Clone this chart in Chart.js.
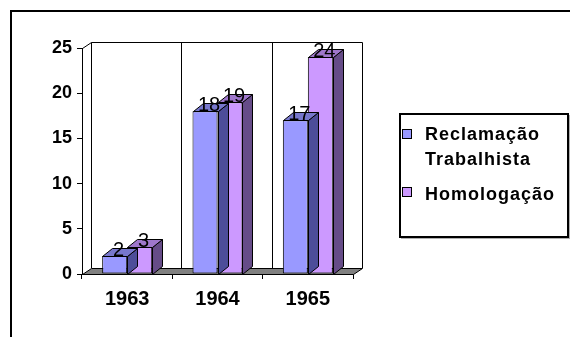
<!DOCTYPE html>
<html>
<head>
<meta charset="utf-8">
<script src="https://cdn.jsdelivr.net/npm/chart.js@4.4.0/dist/chart.umd.min.js"></script>
<style>
  html, body { margin: 0; padding: 0; background: #fff; }
  #wrap { width: 570px; height: 337px; position: relative; }
</style>
</head>
<body>
<div id="wrap"><canvas id="chart" width="570" height="337"></canvas></div>
<script>
// ── dados ─────────────────────────────────────────────────────────────
var anos        = ["1963", "1964", "1965"];
var reclamacao  = [2, 18, 17];
var homologacao = [3, 19, 24];
var nomesSerie  = [["Reclamação", "Trabalhista"], ["Homologação"]];
var yTicks      = [0, 5, 10, 15, 20, 25];

var FONTE = "'Liberation Sans', Arial, sans-serif";
var cores = [
  { frente: "#9999ff", topo: "#7777cc", lado: "#4d4d99" },
  { frente: "#cc99ff", topo: "#9f77cc", lado: "#664c88" }
];
var BX = 10, BY = -8;   // profundidade das barras
var WX = 9,  WY = -6;   // profundidade das paredes / piso

function poly(ctx, pts, fill) {
  ctx.beginPath();
  ctx.moveTo(pts[0][0], pts[0][1]);
  for (var i = 1; i < pts.length; i++) ctx.lineTo(pts[i][0], pts[i][1]);
  ctx.closePath();
  if (fill) { ctx.fillStyle = fill; ctx.fill(); }
  ctx.stroke();
}

// paredes, piso e linhas de grade do fundo
var paredes3d = {
  id: "paredes3d",
  beforeDatasetsDraw: function(chart) {
    var ctx = chart.ctx, a = chart.chartArea, xs = chart.scales.x;
    var L = a.left, R = a.right, T = a.top, B = a.bottom;
    ctx.save();
    ctx.strokeStyle = "#000"; ctx.lineWidth = 1;
    // parede do fundo
    ctx.beginPath();
    ctx.moveTo(L + WX + 0.5, B + WY); ctx.lineTo(L + WX + 0.5, T + WY + 0.5);
    ctx.lineTo(R + WX + 0.5, T + WY + 0.5); ctx.lineTo(R + WX + 0.5, B + WY);
    ctx.stroke();
    // divisões entre categorias no fundo
    for (var i = 0; i < anos.length - 1; i++) {
      var gx = Math.round((xs.getPixelForTick(i) + xs.getPixelForTick(i + 1)) / 2) + WX + 0.5;
      ctx.beginPath(); ctx.moveTo(gx, T + WY); ctx.lineTo(gx, B + WY); ctx.stroke();
    }
    // parede lateral
    ctx.beginPath();
    ctx.moveTo(L + 0.5, T + 0.5); ctx.lineTo(L + WX + 0.5, T + WY + 0.5);
    ctx.stroke();
    // piso
    poly(ctx, [[L + 0.5, B + 0.5], [R + 0.5, B + 0.5], [R + WX + 0.5, B + WY + 0.5], [L + WX + 0.5, B + WY + 0.5]], "#808080");
    ctx.restore();
  },
  afterDatasetDraw: function(chart, args) {
    var ctx = chart.ctx, c = cores[args.index];
    ctx.save();
    ctx.strokeStyle = "#000"; ctx.lineWidth = 1;
    args.meta.data.forEach(function(bar) {
      var l = Math.round(bar.x - bar.width / 2) + 0.5, r = Math.round(bar.x + bar.width / 2) + 0.5;
      var y = Math.round(bar.y) + 0.5, b = Math.round(bar.base) + 0.5;
      poly(ctx, [[r, y], [r + BX, y + BY], [r + BX, b + BY], [r, b]], c.lado);
      poly(ctx, [[l, y], [r, y], [r + BX, y + BY], [l + BX, y + BY]], c.topo);
    });
    ctx.restore();
  },
  afterDraw: function(chart) {
    var ctx = chart.ctx;
    ctx.save();
    // rótulos de valor
    ctx.fillStyle = "#000";
    ctx.font = "20px " + FONTE;
    ctx.textAlign = "center"; ctx.textBaseline = "alphabetic";
    chart.data.datasets.forEach(function(ds, di) {
      chart.getDatasetMeta(di).data.forEach(function(bar, i) {
        ctx.fillText(String(ds.data[i]), bar.x + 4, bar.y);
      });
    });

    // legenda
    ctx.fillStyle = "#b0b0b0";
    ctx.fillRect(401, 238, 169, 1);
    ctx.fillRect(569, 115, 1, 124);
    ctx.strokeStyle = "#000"; ctx.lineWidth = 2;
    ctx.strokeRect(400, 114, 168, 123);
    var quadY = [129, 187], textoY = [[140, 165], [200]];
    ctx.lineWidth = 1;
    ctx.font = "bold 18px " + FONTE;
    ctx.textAlign = "left";
    ctx.letterSpacing = "1px";
    nomesSerie.forEach(function(linhas, i) {
      ctx.fillStyle = cores[i].frente;
      ctx.fillRect(402, quadY[i], 10, 10);
      ctx.strokeRect(402.5, quadY[i] + 0.5, 9, 9);
      ctx.fillStyle = "#000";
      linhas.forEach(function(t, k) { ctx.fillText(t, 425, textoY[i][k]); });
    });
    ctx.letterSpacing = "0px";

    // moldura externa
    ctx.lineWidth = 2;
    ctx.strokeRect(11, 11, 620, 400);
    ctx.restore();
  }
};

new Chart(document.getElementById("chart").getContext("2d"), {
  type: "bar",
  data: {
    labels: anos,
    datasets: [
      { label: nomesSerie[0].join(" "), data: reclamacao, backgroundColor: cores[0].frente },
      { label: nomesSerie[1].join(" "), data: homologacao, backgroundColor: cores[1].frente }
    ]
  },
  options: {
    responsive: false, animation: false,
    layout: { padding: { left: 0, right: 217, top: 48, bottom: 0 } },
    datasets: {
      bar: {
        borderColor: "#000", borderWidth: 1, borderSkipped: false,
        categoryPercentage: 0.5535, barPercentage: 1
      }
    },
    plugins: { legend: { display: false }, tooltip: { enabled: false } },
    scales: {
      x: {
        grid: { drawOnChartArea: false, tickLength: 5, color: "#000", offset: true },
        border: { color: "#000", width: 1 },
        ticks: { color: "#000", padding: 8, maxRotation: 0, font: { family: FONTE, size: 20, weight: "bold" } },
        afterFit: function(s) { s.height = 63; }
      },
      y: {
        min: 0, max: 25,
        afterBuildTicks: function(s) { s.ticks = yTicks.map(function(v) { return { value: v }; }); },
        grid: { drawOnChartArea: false, tickLength: 5, color: "#000" },
        border: { color: "#000", width: 1 },
        ticks: { color: "#000", padding: 5, font: { family: FONTE, size: 18, weight: "bold" } },
        afterFit: function(s) { s.width = 82; }
      }
    }
  },
  plugins: [paredes3d]
});
</script>
</body>
</html>
